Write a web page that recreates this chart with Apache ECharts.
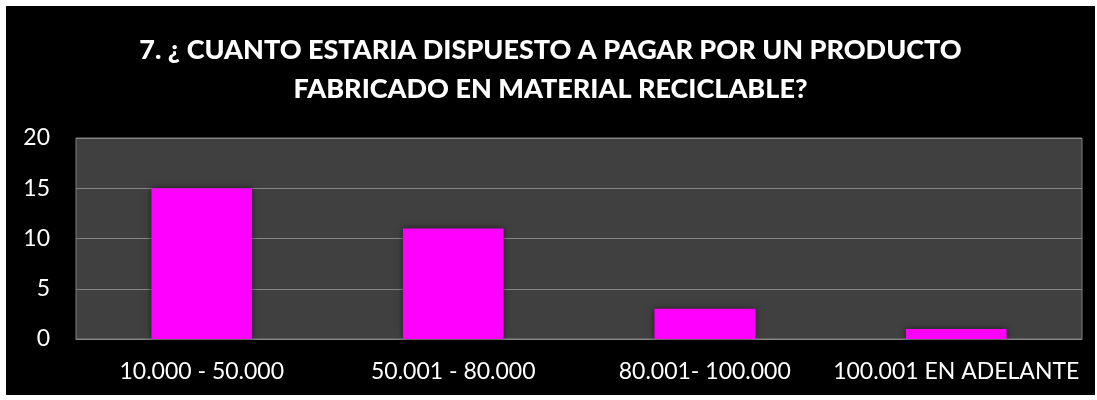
<!DOCTYPE html>
<html>
<head>
<meta charset="utf-8">
<script src="https://cdn.jsdelivr.net/npm/echarts@6/dist/echarts.min.js"></script>
<style>
  html, body { margin: 0; padding: 0; background: #fff; }
  #chart { position: absolute; left: 6px; top: 6px; width: 1089px; height: 389px; background: #000; }
</style>
</head>
<body>
<div id="chart"></div>
<script>
// datos
const rangos = ['10.000 - 50.000', '50.001 - 80.000', '80.001- 100.000', '100.001 EN ADELANTE']
const respuestas = [15, 11, 3, 1]
const titulo = '7. ¿ CUANTO ESTARIA DISPUESTO A PAGAR POR UN PRODUCTO\nFABRICADO EN MATERIAL RECICLABLE?'

const chart = echarts.init(document.getElementById('chart'))

const option = {
  backgroundColor: '#000',
  animation: false,
  title: {
    text: titulo,
    left: 'center',
    top: 20,
    textStyle: {
      color: '#fff',
      fontFamily: 'Lato',
      fontWeight: 900,
      fontSize: 27,
      lineHeight: 39
    }
  },
  grid: {
    left: 70,
    right: 13,
    top: 132,
    bottom: 56,
    show: true,
    backgroundColor: '#404040',
    borderColor: '#7f7f7f',
    borderWidth: 1
  },
  xAxis: {
    type: 'category',
    data: rangos,
    axisLine: { show: true, lineStyle: { color: '#868686', width: 1 } },
    axisTick: { show: false },
    axisLabel: {
      color: '#fff',
      fontFamily: 'Lato',
      fontSize: 23,
      margin: 21,
      interval: 0
    }
  },
  yAxis: {
    type: 'value',
    min: 0,
    max: 20,
    interval: 5,
    axisLine: { show: false },
    axisTick: { show: false },
    splitLine: { lineStyle: { color: '#868686', width: 1 } },
    axisLabel: {
      color: '#fff',
      fontFamily: 'Lato',
      fontSize: 23,
      margin: 26
    }
  },
  series: [{
    type: 'bar',
    data: respuestas,
    barWidth: '40%',
    itemStyle: {
      color: '#ff00ff',
      shadowBlur: 6,
      shadowColor: 'rgba(0, 0, 0, 0.55)'
    }
  }]
}

chart.setOption(option)
</script>
</body>
</html>
